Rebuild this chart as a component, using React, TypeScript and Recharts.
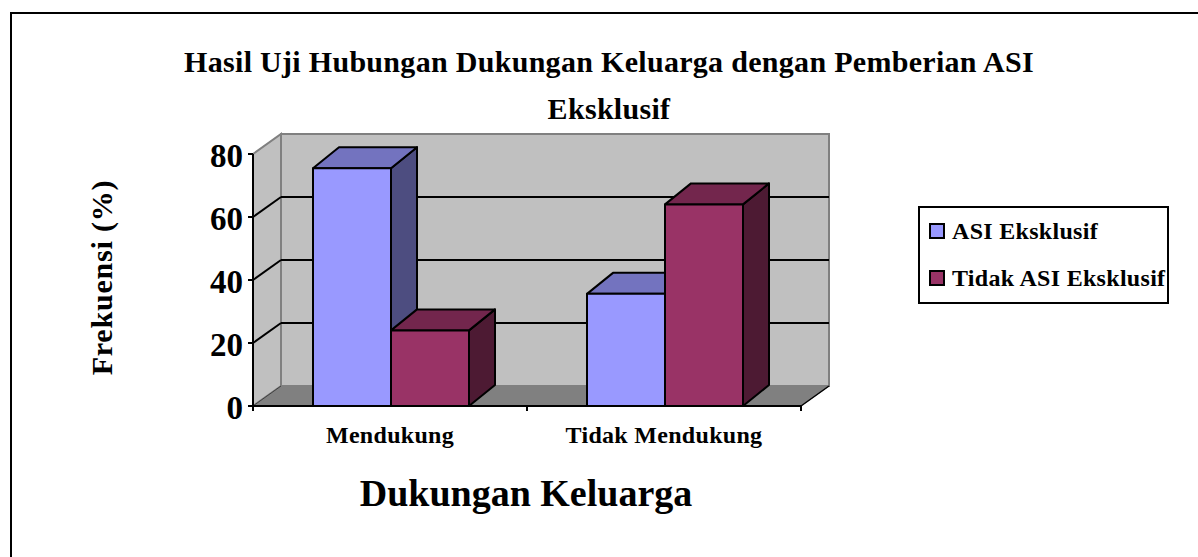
import React from 'react';
import { BarChart, Bar, XAxis, YAxis, Legend, CartesianGrid } from 'recharts';

const categories = ['Mendukung', 'Tidak Mendukung'];
const asiEksklusif = [75.5, 35.6];
const tidakAsiEksklusif = [24, 64];
const yTicks = [0, 20, 40, 60, 80];
const titleLines = ['Hasil Uji Hubungan Dukungan Keluarga dengan Pemberian ASI', 'Eksklusif'];

const chartData = categories.map((name, i) => ({
  name,
  asi: asiEksklusif[i],
  tidak: tidakAsiEksklusif[i],
}));

const serif = '"Liberation Serif", serif';
const DX = 28;
const DY = -20;
const BAR_DX = 26;
const BAR_DY = -21;
const CATEGORY_WIDTH = 274;

const colors: Record<string, { front: string; top: string; side: string }> = {
  asi: { front: '#9999ff', top: '#7373bf', side: '#4d4d80' },
  tidak: { front: '#993366', top: '#73264d', side: '#4d1a33' },
};

const Box3D = (props: any) => {
  const { y, width, height, dataKey } = props;
  const x = props.x + 1;
  const c = colors[dataKey];
  const r = x + width;
  const b = y + height;
  return (
    <g stroke="#000" strokeWidth={2} strokeLinejoin="round">
      <polygon fill={c.side} points={`${r},${y} ${r + BAR_DX},${y + BAR_DY} ${r + BAR_DX},${b + BAR_DY} ${r},${b}`} />
      <polygon fill={c.top} points={`${x},${y} ${x + BAR_DX},${y + BAR_DY} ${r + BAR_DX},${y + BAR_DY} ${r},${y}`} />
      <rect x={x} y={y} width={width} height={height} fill={c.front} />
    </g>
  );
};

// the walls go in with the first grid line so they sit behind everything else
const GridLine = (props: any) => {
  const { x1, x2, y1, x, y, width, height, index } = props;
  const b = y + height;
  const r = x + width;
  const walls = index === 0 && (
    <g>
      <polygon fill="#c0c0c0" stroke="#808080" strokeWidth={2} points={`${x},${y} ${x + DX},${y + DY} ${x + DX},${b + DY} ${x},${b}`} />
      <rect x={x + DX} y={y + DY} width={width} height={height} fill="#c0c0c0" stroke="#808080" strokeWidth={2} />
      <polygon fill="#808080" stroke="#808080" points={`${x},${b} ${x + DX},${b + DY} ${r + DX},${b + DY} ${r},${b}`} />
      <line x1={r} y1={b} x2={r + DX} y2={b + DY} stroke="#000" strokeWidth={1.5} />
      <line x1={x} y1={b} x2={x + DX} y2={b + DY} stroke="#404040" strokeWidth={1} />
    </g>
  );
  const isEdge = y1 <= y + 1 || y1 >= b - 1;
  return (
    <g>
      {walls}
      {!isEdge && (
        <g stroke="#000" strokeWidth={2} fill="none">
          <line x1={x1} y1={y1} x2={x1 + DX} y2={y1 + DY} />
          <line x1={x1 + DX} y1={y1 + DY} x2={x2 + DX} y2={y1 + DY} />
        </g>
      )}
    </g>
  );
};

// tick marks sit on the category boundaries, not under the labels
const CategoryTick = (props: any) => {
  const { x, y, payload, index } = props;
  const half = CATEGORY_WIDTH / 2;
  const top = y - 14;
  return (
    <g>
      {index === 0 && <line x1={x - half} x2={x - half} y1={top} y2={top + 5} stroke="#000" strokeWidth={2} />}
      <line x1={x + half} x2={x + half} y1={top} y2={top + 5} stroke="#000" strokeWidth={2} />
      <text x={x} y={y + 23} textAnchor="middle" fontFamily={serif} fontWeight={700} fontSize={24} letterSpacing={0.3} fill="#000">
        {payload.value}
      </text>
    </g>
  );
};

const legendRows = [
  { label: 'ASI Eksklusif', c: colors.asi.front, top: 11 },
  { label: 'Tidak ASI Eksklusif', c: colors.tidak.front, top: 58 },
];

const LegendBox = () => (
  <div
    style={{
      width: 247,
      height: 94,
      border: '2px solid #000',
      background: '#fff',
      fontFamily: serif,
      fontWeight: 700,
      fontSize: 24,
      letterSpacing: 0.3,
      color: '#000',
      position: 'relative',
    }}
  >
    {legendRows.map((it) => (
      <div key={it.label} style={{ position: 'absolute', left: 9, top: it.top, whiteSpace: 'nowrap', lineHeight: '24px' }}>
        <span style={{ display: 'inline-block', width: 12, height: 12, background: it.c, border: '2px solid #000', marginRight: 7 }} />
        {it.label}
      </div>
    ))}
  </div>
);

export default function App() {
  return (
    <div style={{ position: 'absolute', left: 0, top: 0, width: 1198, height: 557, background: '#fff' }}>
      <div style={{ position: 'absolute', left: 10, top: 12, right: 0, bottom: 0, borderLeft: '2px solid #000', borderTop: '2px solid #000' }} />
      <BarChart
        width={1198}
        height={557}
        data={chartData}
        margin={{ top: 154, right: 146, bottom: 0, left: 0 }}
        barGap={0}
        barSize={78}
        style={{ fontFamily: serif, position: 'relative' }}
      >
        <CartesianGrid vertical={false} horizontal={GridLine as any} />
        <text x={609} y={72} textAnchor="middle" fontFamily={serif} fontWeight={700} fontSize={30} letterSpacing={0.3}>
          {titleLines[0]}
        </text>
        <text x={609} y={119} textAnchor="middle" fontFamily={serif} fontWeight={700} fontSize={30} letterSpacing={0.3}>
          {titleLines[1]}
        </text>
        <XAxis
          dataKey="name"
          height={151}
          interval={0}
          stroke="#000"
          strokeWidth={2}
          tickLine={false}
          tick={CategoryTick}
          tickMargin={8}
          label={{ value: 'Dukungan Keluarga', position: 'insideTop', dy: 68, dx: -1, fontSize: 38, fontWeight: 700, fill: '#000', fontFamily: serif }}
        />
        <YAxis
          width={253}
          domain={[0, 80]}
          ticks={yTicks}
          stroke="#000"
          strokeWidth={2}
          tickSize={5}
          tick={{ fontSize: 33, fontWeight: 700, fill: '#000', fontFamily: serif, dy: 1.5 }}
          tickMargin={5}
          tickLine={{ stroke: '#000', strokeWidth: 2 }}
          label={{ value: 'Frekuensi (%)', angle: -90, position: 'insideLeft', dx: 96, dy: -2.5, textAnchor: 'middle', fontSize: 30, letterSpacing: 0.8, fontWeight: 700, fill: '#000', fontFamily: serif }}
        />
        <Legend
          layout="vertical"
          align="right"
          verticalAlign="top"
          wrapperStyle={{ left: 918, top: 206, width: 251 }}
          content={LegendBox}
        />
        <Bar dataKey="asi" name="ASI Eksklusif" shape={Box3D} isAnimationActive={false} />
        <Bar dataKey="tidak" name="Tidak ASI Eksklusif" shape={Box3D} isAnimationActive={false} />
      </BarChart>
    </div>
  );
}
